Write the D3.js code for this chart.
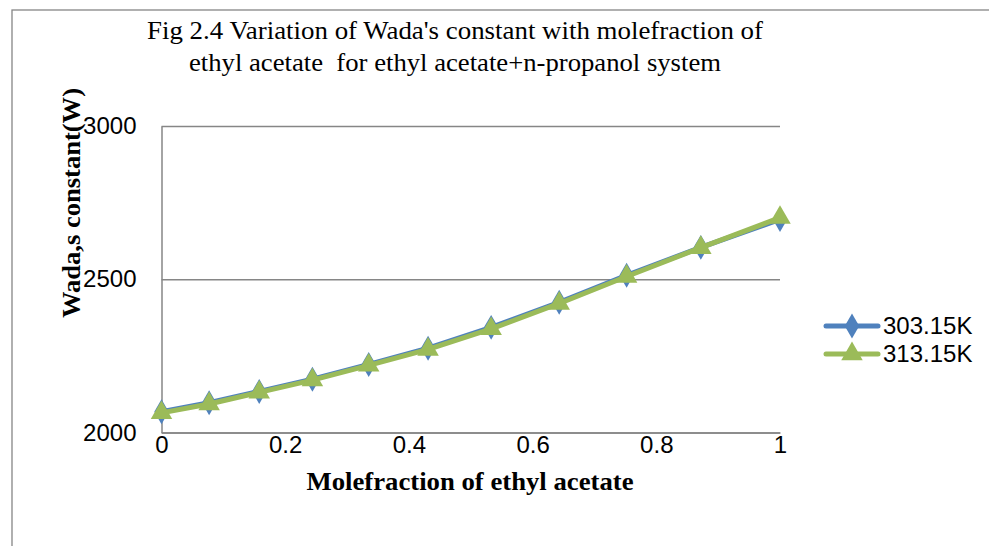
<!DOCTYPE html>
<html>
<head>
<meta charset="utf-8">
<script src="https://cdn.jsdelivr.net/npm/d3@7"></script>
<style>
  body { margin: 0; background: #fff; }
  svg { display: block; }
</style>
</head>
<body>
<svg id="chart" width="989" height="546"></svg>
<script>
// values
let moleFraction = [0, 0.077, 0.158, 0.244, 0.335, 0.431, 0.533, 0.643, 0.752, 0.872, 1];
let wada303 = [2068, 2097, 2134, 2174, 2222, 2275, 2343, 2425, 2513, 2604, 2695];
let wada313 = [2064, 2093, 2131, 2171, 2219, 2271, 2338, 2421, 2509, 2603, 2701];
let seriesNames = ["303.15K", "313.15K"];
let xTicks = [0, 0.2, 0.4, 0.6, 0.8, 1];
let yTicks = [2000, 2500, 3000];
let titleLines = ["Fig 2.4 Variation of Wada's constant with molefraction of",
                  "ethyl acetate  for ethyl acetate+n-propanol system"];

let svg = d3.select('#chart');
let plotLeft = 161.5, plotRight = 780, plotTop = 126, plotBottom = 432.5;
let sansFont = "'Liberation Sans Narrow', 'Liberation Sans', Arial, sans-serif";
let serifFont = "'Liberation Serif', 'Times New Roman', serif";

let x = d3.scaleLinear().domain([0, 1]).range([plotLeft, plotRight]);
let y = d3.scaleLinear().domain([2000, 3000]).range([plotBottom, plotTop]);

// outer chart border
svg.append("rect")
   .attr("x", 12).attr("y", 10)
   .attr("width", 1000).attr("height", 600)
   .attr("fill", "none")
   .attr("stroke", "#868686")
   .attr("stroke-width", 1.3)

// gridlines
svg.append("g")
   .attr("transform", "translate(" + plotLeft + ",0)")
   .call(d3.axisLeft(y).tickValues(yTicks).tickSize(-(plotRight - plotLeft)).tickFormat(""))
   .call(g => g.select(".domain").remove())
   .selectAll("line")
   .attr("stroke", "#868686")
   .attr("stroke-width", 1.5)

// y axis line + labels
let yAxis = svg.append("g")
   .attr("transform", "translate(" + plotLeft + ",0)")
   .call(d3.axisLeft(y).tickValues(yTicks).tickSize(0).tickPadding(25).tickFormat(d3.format("d")))
yAxis.select(".domain").attr("stroke", "#868686").attr("stroke-width", 1.5)
yAxis.selectAll("text")
     .attr("font-family", sansFont)
     .attr("font-size", 24)
     .attr("fill", "#000")

// x axis
let xAxis = svg.append("g")
   .attr("transform", "translate(0," + plotBottom + ")")
   .call(d3.axisBottom(x).tickValues(xTicks).tickSize(0).tickPadding(3).tickFormat(d => d))
xAxis.select(".domain").attr("stroke", "#868686").attr("stroke-width", 1.5)
xAxis.selectAll("text")
     .attr("font-family", sansFont)
     .attr("font-size", 24)
     .attr("fill", "#000")

// series
let series = [
  {name: seriesNames[0], values: wada303, color: "#4F81BD", symbol: d3.symbolDiamond, size: 180},
  {name: seriesNames[1], values: wada313, color: "#9BBB59", symbol: d3.symbolTriangle, size: 200}
];

let line = d3.line()
             .x((d, i) => x(moleFraction[i]))
             .y(d => y(d))

series.forEach((s, k) => {
  svg.append("path")
     .datum(s.values)
     .attr("d", line)
     .attr("fill", "none")
     .attr("stroke", s.color)
     .attr("stroke-width", 5)
     .attr("stroke-linejoin", "round")

  svg.selectAll(".pt" + k)
     .data(s.values)
     .enter()
     .append("path")
     .attr("class", "pt" + k)
     .attr("d", d3.symbol().type(s.symbol).size(s.size))
     .attr("transform", (d, i) => "translate(" + x(moleFraction[i]) + "," + y(d) + ")")
     .attr("fill", s.color)
})

// legend
let legend = svg.selectAll(".legend")
                .data(series)
                .enter()
                .append("g")
                .attr("class", "legend")
                .attr("transform", (d, i) => "translate(826," + (326 + i * 28) + ")")

legend.append("line")
      .attr("x1", 0).attr("x2", 52)
      .attr("stroke", d => d.color)
      .attr("stroke-width", 5)
      .attr("stroke-linecap", "round")
legend.append("path")
      .attr("d", d => d3.symbol().type(d.symbol).size(d.size)())
      .attr("transform", "translate(26,0)")
      .attr("fill", d => d.color)
legend.append("text")
      .attr("x", 57).attr("dy", "0.35em")
      .text(d => d.name)
      .attr("font-family", sansFont)
      .attr("font-size", 24)

// title
let titleWidths = [616, 532];
svg.selectAll(".title")
   .data(titleLines)
   .enter()
   .append("text")
   .attr("class", "title")
   .attr("x", 455)
   .attr("y", (d, i) => 39 + i * 32)
   .attr("text-anchor", "middle")
   .attr("font-family", serifFont)
   .attr("font-size", 26)
   .attr("textLength", (d, i) => titleWidths[i])
   .attr("lengthAdjust", "spacingAndGlyphs")
   .style("white-space", "pre")
   .text(d => d)

// axis titles
svg.append("text")
   .attr("x", 470).attr("y", 490)
   .attr("text-anchor", "middle")
   .attr("font-family", serifFont)
   .attr("font-weight", "bold")
   .attr("font-size", 26)
   .attr("textLength", 327)
   .attr("lengthAdjust", "spacingAndGlyphs")
   .text("Molefraction of ethyl acetate")

svg.append("text")
   .attr("transform", "translate(80,203) rotate(-90)")
   .attr("text-anchor", "middle")
   .attr("font-family", serifFont)
   .attr("font-weight", "bold")
   .attr("font-size", 26)
   .attr("textLength", 230)
   .attr("lengthAdjust", "spacingAndGlyphs")
   .text("Wada,s constant(W)")
</script>
</body>
</html>
